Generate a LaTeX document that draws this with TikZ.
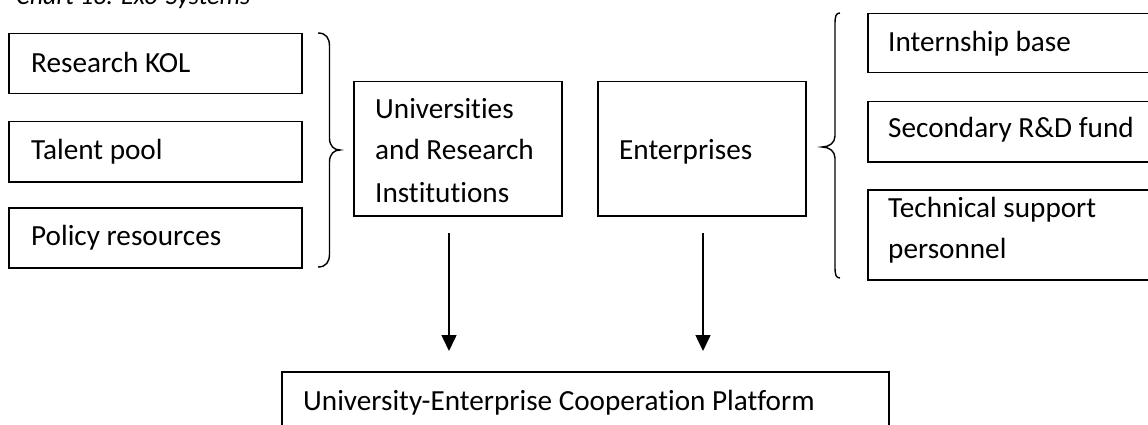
\documentclass[tikz,border=0pt]{standalone}
\usepackage{fontspec}
\setmainfont{Carlito}[Ligatures={NoCommon}]
\usetikzlibrary{arrows.meta}
\begin{document}
\begin{tikzpicture}[x=1pt,y=-1pt,
  box/.style={draw, line width=1.5pt, rectangle, inner sep=0pt, anchor=north west},
  txt/.style={anchor=base west, inner sep=0pt, font=\fontsize{29.2}{34}\selectfont},
  captxt/.style={anchor=base west, inner sep=0pt, font=\fontsize{26}{30}\selectfont\itshape},
  bracepath/.style={draw, line width=1.4pt},
  arr/.style={line width=1.6pt, -{Triangle[length=16pt,width=15pt]}}]
\useasboundingbox (0,0) rectangle (1148,425);
\begin{scope}
\clip (0,0) rectangle (1148,425);
% caption
\node[captxt] (caption) at (16,5) {Chart 13: Exo-Systems};
% left boxes
\node[box, minimum width=293pt, minimum height=60pt] (kol) at (8,33) {};
\node[txt] (kolT) at (31,73) {Research KOL};
\node[box, minimum width=293pt, minimum height=60pt] (talent) at (8,121) {};
\node[txt] (talentT) at (31,160) {Talent pool};
\node[box, minimum width=293pt, minimum height=60pt] (policy) at (8,207) {};
\node[txt] (policyT) at (31,245) {Policy resources};
% left brace
\draw[bracepath] (318,33) .. controls (326,33) and (329.5,38) .. (329.5,46) -- (329.5,138)
  .. controls (329.5,146) and (334,150) .. (340,150)
  .. controls (334,150) and (329.5,154) .. (329.5,162) -- (329.5,254)
  .. controls (329.5,262) and (326,267) .. (318,267);
% universities
\node[box, minimum width=208pt, minimum height=134pt] (univ) at (353,81) {};
\node[txt] (univT1) at (375,119) {Universities};
\node[txt] (univT2) at (375,160) {and Research};
\node[txt] (univT3) at (375,202) {Institutions};
% enterprises
\node[box, minimum width=208pt, minimum height=134pt] (ent) at (597,81) {};
\node[txt] (entT) at (619,160) {Enterprises};
% right brace
\draw[bracepath] (840,13) .. controls (836,13) and (835,16) .. (835,24) -- (835,136)
  .. controls (835,143) and (829,147) .. (822,147)
  .. controls (829,147) and (835,151) .. (835,158) -- (835,267)
  .. controls (835,275) and (836,278) .. (840,278);
% right boxes
\node[box, minimum width=293pt, minimum height=59pt] (intern) at (867,13) {};
\node[txt] (internT) at (888,52) {Internship base};
\node[box, minimum width=293pt, minimum height=60pt] (fund) at (867,101) {};
\node[txt] (fundT) at (888,138) {Secondary R\&D fund};
\node[box, minimum width=293pt, minimum height=90pt] (tech) at (867,189) {};
\node[txt] (techT1) at (888,217) {Technical support};
\node[txt] (techT2) at (888,258) {personnel};
% bottom box
\node[box, minimum width=607pt, minimum height=70pt] (platform) at (281,371) {};
\node[txt] (platformT) at (303,410) {University-Enterprise Cooperation Platform};
% arrows
\coordinate (a1s) at (449,233);
\coordinate (a1e) at (449,351);
\coordinate (a2s) at (703,233);
\coordinate (a2e) at (703,351);
\draw[arr] (a1s) -- (a1e);
\draw[arr] (a2s) -- (a2e);
\end{scope}
\end{tikzpicture}
\end{document}
